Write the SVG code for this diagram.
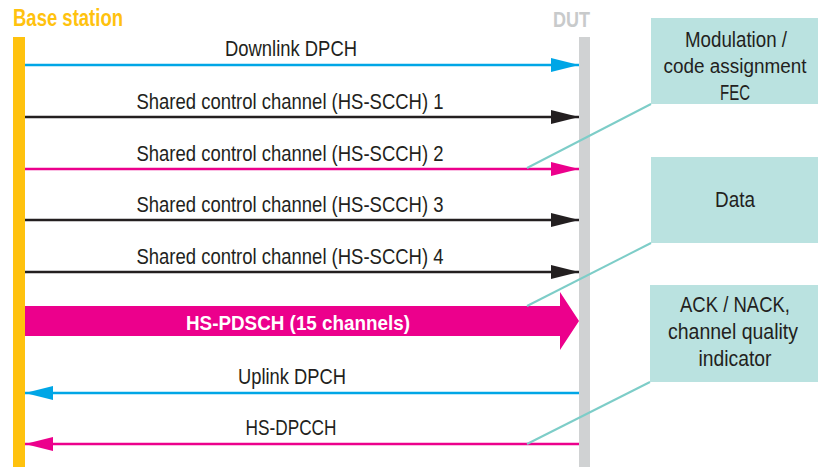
<svg xmlns="http://www.w3.org/2000/svg" width="818" height="467" viewBox="0 0 818 467">
<style>
.lbl{font-family:"Liberation Sans",Arial,sans-serif;font-size:22px;fill:#231F20;text-anchor:middle}
.box{fill:#BAE2E0}
.btxt{font-family:"Liberation Sans",Arial,sans-serif;font-size:22px;fill:#231F20;text-anchor:middle}
.call{stroke:#7DCDC8;stroke-width:2;fill:none}
</style>
<defs>
<marker id="hb" viewBox="0 0 28 14" refX="28" refY="7" markerWidth="28" markerHeight="14" markerUnits="userSpaceOnUse" orient="auto"><path d="M0,0 L28,7 L0,14 Z" fill="#231F20"/></marker>
<marker id="hc" viewBox="0 0 28 14" refX="28" refY="7" markerWidth="28" markerHeight="14" markerUnits="userSpaceOnUse" orient="auto"><path d="M0,0 L28,7 L0,14 Z" fill="#00A6E6"/></marker>
<marker id="hm" viewBox="0 0 28 14" refX="28" refY="7" markerWidth="28" markerHeight="14" markerUnits="userSpaceOnUse" orient="auto"><path d="M0,0 L28,7 L0,14 Z" fill="#EC008C"/></marker>
</defs>
<g id="base-station">
<rect x="13" y="37" width="12" height="430" fill="#FFC20E"/>
<text x="13" y="26" font-family="Liberation Sans,Arial,sans-serif" font-weight="bold" font-size="23" fill="#FFC20E" textLength="110" lengthAdjust="spacingAndGlyphs">Base station</text>
</g>
<g id="dut">
<rect x="579" y="37" width="11" height="430" fill="#D0D2D3"/>
<text x="553" y="27" font-family="Liberation Sans,Arial,sans-serif" font-weight="bold" font-size="22" fill="#C8CACB" textLength="37" lengthAdjust="spacingAndGlyphs">DUT</text>
</g>
<g id="connectors">
<line x1="25" y1="65" x2="579" y2="65" stroke="#00A6E6" stroke-width="2.5" marker-end="url(#hc)"/>
<line x1="25" y1="117" x2="579" y2="117" stroke="#231F20" stroke-width="2.5" marker-end="url(#hb)"/>
<line x1="25" y1="169" x2="579" y2="169" stroke="#EC008C" stroke-width="2.5" marker-end="url(#hm)"/>
<line x1="25" y1="220" x2="579" y2="220" stroke="#231F20" stroke-width="2.5" marker-end="url(#hb)"/>
<line x1="25" y1="272" x2="579" y2="272" stroke="#231F20" stroke-width="2.5" marker-end="url(#hb)"/>
<path d="M25,306 L560,306 L560,292 L579,321 L560,350 L560,336 L25,336 Z" fill="#EC008C"/>
<line x1="579" y1="393" x2="25" y2="393" stroke="#00A6E6" stroke-width="2.5" marker-end="url(#hc)"/>
<line x1="579" y1="444" x2="25" y2="444" stroke="#EC008C" stroke-width="2.5" marker-end="url(#hm)"/>
<text class="lbl" x="291" y="56" textLength="132" lengthAdjust="spacingAndGlyphs">Downlink DPCH</text>
<text class="lbl" x="290" y="109" textLength="307" lengthAdjust="spacingAndGlyphs">Shared control channel (HS-SCCH) 1</text>
<text class="lbl" x="290" y="161" textLength="307" lengthAdjust="spacingAndGlyphs">Shared control channel (HS-SCCH) 2</text>
<text class="lbl" x="290" y="212" textLength="307" lengthAdjust="spacingAndGlyphs">Shared control channel (HS-SCCH) 3</text>
<text class="lbl" x="290" y="264" textLength="307" lengthAdjust="spacingAndGlyphs">Shared control channel (HS-SCCH) 4</text>
<text x="298" y="330" font-family="Liberation Sans,Arial,sans-serif" font-weight="bold" font-size="21" fill="#FFFFFF" text-anchor="middle" textLength="224" lengthAdjust="spacingAndGlyphs">HS-PDSCH (15 channels)</text>
<text class="lbl" x="292" y="384" textLength="108" lengthAdjust="spacingAndGlyphs">Uplink DPCH</text>
<text class="lbl" x="291" y="435" textLength="91" lengthAdjust="spacingAndGlyphs">HS-DPCCH</text>
<line class="call" x1="651" y1="104" x2="527" y2="168"/>
<line class="call" x1="651" y1="243" x2="527" y2="306"/>
<line class="call" x1="650" y1="382" x2="527" y2="444"/>
</g>
<g id="box-modulation">
<rect class="box" x="651" y="18" width="167" height="86"/>
<text class="btxt" x="736" y="47" textLength="102" lengthAdjust="spacingAndGlyphs">Modulation /</text>
<text class="btxt" x="735" y="73" font-size="20" style="font-size:20px" textLength="143" lengthAdjust="spacingAndGlyphs">code assignment</text>
<text class="btxt" x="735" y="100" textLength="30" lengthAdjust="spacingAndGlyphs">FEC</text>
</g>
<g id="box-data">
<rect class="box" x="651" y="157" width="167" height="86"/>
<text class="btxt" x="735" y="207" textLength="40" lengthAdjust="spacingAndGlyphs">Data</text>
</g>
<g id="box-ack">
<rect class="box" x="650" y="285" width="168" height="97"/>
<text class="btxt" x="735" y="312" textLength="110" lengthAdjust="spacingAndGlyphs">ACK / NACK,</text>
<text class="btxt" x="733" y="339" textLength="130" lengthAdjust="spacingAndGlyphs">channel quality</text>
<text class="btxt" x="735" y="366" textLength="73" lengthAdjust="spacingAndGlyphs">indicator</text>
</g>
</svg>
